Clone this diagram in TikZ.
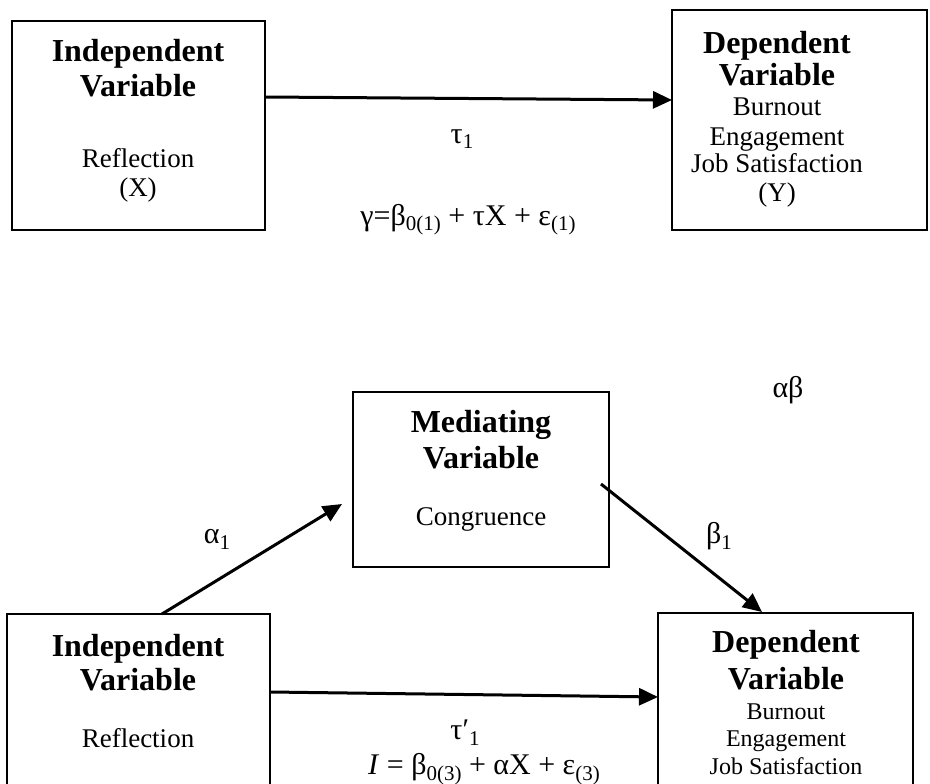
\documentclass[tikz,border=0pt]{standalone}
\usepackage{fontspec}
\setmainfont{Liberation Serif}
\usetikzlibrary{arrows.meta}
\newcommand{\lowidx}[1]{\raisebox{-0.2em}{\fontsize{21}{22}\selectfont #1}}
\begin{document}
\begin{tikzpicture}[x=1pt,y=-1pt,
  box/.style={draw,line width=2.4pt,inner sep=0pt},
  conn/.style={line width=3pt,-{Triangle[length=19pt,width=17pt]}},
  head/.style={font=\fontsize{32}{34}\selectfont\bfseries,anchor=base,inner sep=0pt},
  body/.style={font=\fontsize{27}{29}\selectfont,anchor=base,inner sep=0pt},
  small/.style={font=\fontsize{24}{26}\selectfont,anchor=base,inner sep=0pt},
  sym/.style={font=\fontsize{30}{32}\selectfont,anchor=base,inner sep=0pt}]
\useasboundingbox (0,0) rectangle (930,784);
\clip (0,0) rectangle (930,784);

% ---------- total effect model ----------
\node[box,minimum width=253pt,minimum height=209pt] (ivTop) at (138.5,125.5) {};
\node[box,minimum width=255pt,minimum height=220pt] (dvTop) at (799.5,120) {};

\node[head] (ivTopA) at (138,62) {Independent};
\node[head] (ivTopB) at (138,96) {Variable};
\node[body] (ivTopC) at (138,167) {Reflection};
\node[body] (ivTopD) at (138,196) {(X)};

\node[head] (dvTopA) at (777,54) {Dependent};
\node[head] (dvTopB) at (777,86) {Variable};
\node[body] (dvTopC) at (777,116) {Burnout};
\node[body] (dvTopD) at (777,145) {Engagement};
\node[body] (dvTopE) at (777,172) {Job Satisfaction};
\node[body] (dvTopF) at (777,201) {(Y)};

\coordinate (tauS) at (265,97);
\coordinate (tauE) at (672,100);
\draw[conn] (tauS) -- (tauE);
\node[sym] (tauLbl) at (462,143) {τ\lowidx{1}};
\node[sym] (eqTop) at (468,225) {γ=β\lowidx{0(1)} + τX + ε\lowidx{(1)}};

% ---------- mediation model ----------
\node[box,minimum width=256pt,minimum height=175pt] (med) at (481,479.5) {};
\node[head] (medA) at (481,432) {Mediating};
\node[head] (medB) at (481,468) {Variable};
\node[body] (medC) at (481,525) {Congruence};

\node[box,minimum width=263pt,minimum height=186pt] (ivBot) at (138.5,707) {};
\node[head] (ivBotA) at (138,656) {Independent};
\node[head] (ivBotB) at (138,690) {Variable};
\node[body] (ivBotC) at (138,747) {Reflection};

\node[box,minimum width=255pt,minimum height=187pt] (dvBot) at (785.5,706.5) {};
\node[head] (dvBotA) at (786,652) {Dependent};
\node[head] (dvBotB) at (786,689) {Variable};
\node[small] (dvBotC) at (786,719) {Burnout};
\node[small] (dvBotD) at (786,746) {Engagement};
\node[small] (dvBotE) at (786,774) {Job Satisfaction};

\coordinate (aS) at (162,614);
\coordinate (aE) at (342,504);
\draw[conn] (aS) -- (aE);
\coordinate (bS) at (601,484);
\coordinate (bE) at (762,612);
\draw[conn] (bS) -- (bE);
\coordinate (cS) at (270,692);
\coordinate (cE) at (658,697);
\draw[conn] (cS) -- (cE);

\node[sym] (alphaLbl) at (217,543) {α\lowidx{1}};
\node[sym] (betaLbl) at (719,543) {β\lowidx{1}};
\node[sym] (abLbl) at (788,397) {αβ};
\node[sym] (tauPLbl) at (465,739) {τ′\lowidx{1}};
\node[sym] (eqBot) at (484,774) {\textit{I} = β\lowidx{0(3)} + αX + ε\lowidx{(3)}};
\end{tikzpicture}
\end{document}
